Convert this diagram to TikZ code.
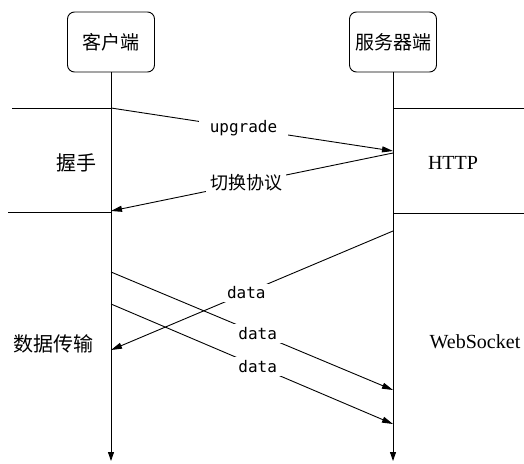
\documentclass[tikz,border=0pt]{standalone}
\usepackage{fontspec}
\setmainfont{Liberation Serif}
\setmonofont{DejaVu Sans Mono}
\newfontfamily\cjk{Noto Sans CJK SC}
\usetikzlibrary{arrows.meta}
\begin{document}
\begin{tikzpicture}[x=1pt,y=-1pt,line width=0.9pt,
  actor/.style={draw,rounded corners=7pt,minimum width=87pt,minimum height=60pt,inner sep=0pt,font=\cjk\fontsize{19}{19}\selectfont},
  msg/.style={-{Triangle[length=11pt,width=6pt]}},
  life/.style={-{Triangle[length=9pt,width=6pt]}},
  msglabel/.style={fill=white,font=\ttfamily\fontsize{16}{16}\selectfont,inner ysep=3pt},
  cjklabel/.style={font=\cjk\fontsize{20}{20}\selectfont},
  seriflabel/.style={font=\fontsize{20}{20}\selectfont}
]
\useasboundingbox (0,0) rectangle (524,463);
% actors
\node[actor] (client) at (111,42) {客户端};
\node[actor] (server) at (393,42) {服务器端};
% lifelines
\coordinate (cend) at (111,461);
\coordinate (send) at (393,461);
\draw[life] (client.south) -- (cend);
\draw[life] (server.south) -- (send);
% phase separators
\coordinate (L1) at (12,108);
\coordinate (C1) at (111,108);
\coordinate (S1) at (393,108);
\coordinate (R1) at (524,108);
\coordinate (L2) at (8,212);
\coordinate (C2) at (111,212);
\coordinate (S2) at (393,213);
\coordinate (R2) at (524,213);
\draw (L1) -- (C1);
\draw (S1) -- (R1);
\draw (L2) -- (C2);
\draw (S2) -- (R2);
% handshake messages
\coordinate (up1) at (111,108);
\coordinate (up2) at (393,151);
\draw[msg] (up1) -- node[msglabel,pos=0.47,inner xsep=11pt] {upgrade} (up2);
\coordinate (sw1) at (393,153);
\coordinate (sw2) at (111,211);
\draw[msg] (sw1) -- node[pos=0.52,fill=white,inner xsep=4pt,inner ysep=2pt,font=\cjk\fontsize{18}{18}\selectfont] {切换协议} (sw2);
% data messages
\coordinate (d1a) at (393,231);
\coordinate (d1b) at (111,350);
\draw[msg] (d1a) -- node[msglabel,pos=0.52,inner xsep=15pt] {data} (d1b);
\coordinate (d2a) at (111,272);
\coordinate (d2b) at (393,390);
\draw[msg] (d2a) -- node[msglabel,pos=0.52,inner xsep=7pt] {data} (d2b);
\coordinate (d3a) at (111,304);
\coordinate (d3b) at (393,424);
\draw[msg] (d3a) -- node[msglabel,pos=0.52,inner xsep=7pt] {data} (d3b);
% phase labels
\node[cjklabel] (hs) at (76,163) {握手};
\node[seriflabel] (http) at (453,163) {HTTP};
\node[cjklabel] (dt) at (53,344) {数据传输};
\node[seriflabel] (ws) at (475,342) {WebSocket};
\end{tikzpicture}
\end{document}
